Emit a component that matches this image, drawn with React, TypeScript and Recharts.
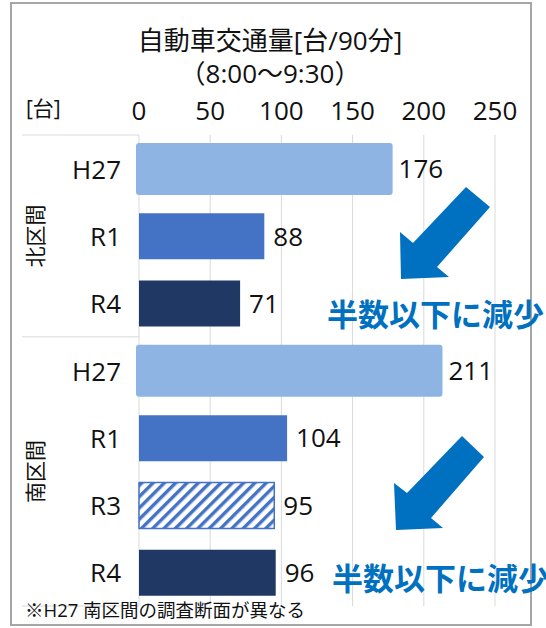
import { BarChart, Bar, XAxis, YAxis, CartesianGrid, Cell, LabelList } from 'recharts'

const years = ['H27', 'R1', 'R4', 'H27', 'R1', 'R3', 'R4']
const sections = ['北区間', '北区間', '北区間', '南区間', '南区間', '南区間', '南区間']
const volumes = [176, 88, 71, 211, 104, 95, 96]
const xTicks = [0, 50, 100, 150, 200, 250]

const FONT = "'Open Sans', 'Noto Sans CJK JP', sans-serif"
const CJK = "'Noto Sans CJK JP', 'Noto Sans', sans-serif"
const W = 546
const H = 628
const MARGIN = { top: 105, right: 51, bottom: 22, left: 0 }
const X_AXIS_H = 30
const Y_AXIS_W = 139
const PLOT_TOP = MARGIN.top + X_AXIS_H
const PLOT_H = H - PLOT_TOP - MARGIN.bottom
const BAND = PLOT_H / years.length
const BLUE = '#0070C0'

const yearColor: Record<string, string> = {
  H27: '#8EB4E3',
  R1: '#4472C4',
  R3: 'url(#hatchR3)',
  R4: '#203864',
}

const data = years.map((y, i) => ({
  id: `${sections[i]}-${y}`,
  year: y,
  section: sections[i],
  value: volumes[i],
}))

function CategoryTick(props: any) {
  const { y, payload } = props
  const i = props.index ?? payload.index
  const row = data[i]
  if (!row) return null
  const first = i === 0 || sections[i - 1] !== sections[i]
  const last = i === data.length - 1
  const start = sections.indexOf(row.section)
  const end = sections.lastIndexOf(row.section)
  const mid = (start + end) / 2
  const showSection = i === Math.floor(mid)
  const secY = y + (mid - Math.floor(mid)) * BAND
  return (
    <g>
      {first && <line x1={22} x2={Y_AXIS_W} y1={y - BAND / 2} y2={y - BAND / 2} stroke="#D9D9D9" />}
      {last && <line x1={22} x2={Y_AXIS_W} y1={y + BAND / 2} y2={y + BAND / 2} stroke="#D9D9D9" />}
      <text x={Y_AXIS_W - 18} y={y} textAnchor="end" dominantBaseline="central" fontSize={26} fill="#111" fontFamily={FONT}>
        {row.year}
      </text>
      {showSection && (
        <text
          transform={`translate(34 ${secY}) rotate(-90)`}
          textAnchor="middle"
          dominantBaseline="central"
          fontSize={21}
          fill="#111"
          fontFamily={CJK}
        >
          {row.section}
        </text>
      )}
    </g>
  )
}

function DownArrow({ pts }: { pts: string }) {
  return <polygon points={pts} fill={BLUE} />
}

export default function App() {
  return (
    <div style={{ position: 'absolute', left: 0, top: 0, width: W, height: H, background: '#fff', fontFamily: FONT, overflow: 'hidden' }}>
      <svg width={0} height={0} style={{ position: 'absolute' }}>
        <defs>
          <pattern id="hatchR3" patternUnits="userSpaceOnUse" width={8} height={8} patternTransform="rotate(45)">
            <rect width={8} height={8} fill="#fff" />
            <rect width={3.4} height={8} fill="#4472C4" />
          </pattern>
        </defs>
      </svg>

      <BarChart width={W} height={H} data={data} layout="vertical" margin={MARGIN}>
        <CartesianGrid horizontal={false} stroke="#D9D9D9" />
        <XAxis
          type="number"
          orientation="top"
          domain={[0, 250]}
          ticks={xTicks}
          height={X_AXIS_H}
          axisLine={false}
          tickLine={false}
          tickSize={0}
          tickMargin={15}
          tick={{ fontSize: 26, fill: '#111', fontFamily: FONT }}
        />
        <YAxis
          type="category"
          dataKey="id"
          width={Y_AXIS_W}
          axisLine={false}
          tickLine={false}
          interval={0}
          tick={<CategoryTick />}
        />
        <Bar dataKey="value" barSize={46} isAnimationActive={false}>
          {data.map((d) => (
            <Cell
              key={d.id}
              fill={yearColor[d.year]}
              stroke={d.year === 'H27' ? yearColor.H27 : d.year === 'R3' ? '#4472C4' : 'none'}
              strokeWidth={d.year === 'H27' ? 6 : 1.5}
              strokeLinejoin="round"
            />
          ))}
          <LabelList dataKey="value" position="right" offset={9} fill="#111" fontSize={26} fontFamily={FONT} />
        </Bar>
      </BarChart>

      <svg width={W} height={H} style={{ position: 'absolute', left: 0, top: 0, pointerEvents: 'none' }}>
        <rect x={11} y={3} width={520} height={622} fill="none" stroke="#A6A6A6" strokeWidth={2} />
        <text x={270} y={40} textAnchor="middle" dominantBaseline="central" fontSize={26} fill="#111" fontFamily={FONT}>
          自動車交通量[台/90分]
        </text>
        <text x={270} y={73} textAnchor="middle" dominantBaseline="central" fontSize={26} fill="#111" fontFamily={FONT}>
          （8:00～9:30）
        </text>
        <text x={26} y={108} dominantBaseline="central" fontSize={21} fill="#111" fontFamily={FONT}>
          [台]
        </text>

        <DownArrow pts="466,187 490,207 437,267 449,277 401,279 400,232 413,243" />
        <DownArrow pts="462,436 484,457 431,518 443,528 396,530 394,483 407,493" />

        <text x={327} y={312} dominantBaseline="central" fontSize={31} fontWeight={700} fill={BLUE} fontFamily={CJK}>
          半数以下に減少
        </text>
        <text x={332} y={576} dominantBaseline="central" fontSize={31} fontWeight={700} fill={BLUE} fontFamily={CJK}>
          半数以下に減少
        </text>

        <text x={25} y={609} dominantBaseline="central" fontSize={18.5} fill="#111" fontFamily={FONT}>
          ※H27 南区間の調査断面が異なる
        </text>
      </svg>
    </div>
  )
}
